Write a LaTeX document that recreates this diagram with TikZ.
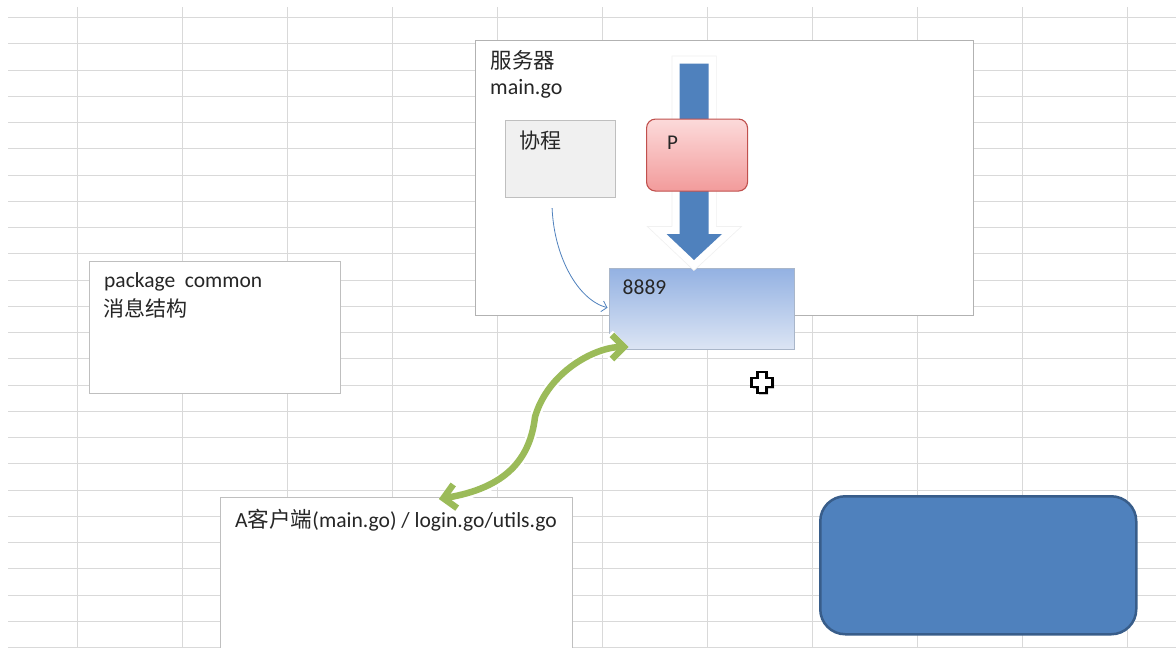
\documentclass[tikz,border=0pt]{standalone}
\usepackage{fontspec}
\setmainfont{Carlito}
\newfontfamily\cjk{Noto Sans CJK SC}
\usetikzlibrary{arrows.meta,calc}
\definecolor{gridc}{HTML}{D9D9D9}
\definecolor{boxline}{HTML}{BFBFBF}
\definecolor{txt}{HTML}{262626}
\definecolor{accblue}{HTML}{4F81BD}
\definecolor{accblueline}{HTML}{385D8A}
\definecolor{pinktop}{HTML}{FCDADA}
\definecolor{pinkbot}{HTML}{F29B9B}
\definecolor{pinkline}{HTML}{C0504D}
\definecolor{portop}{HTML}{93B1E2}
\definecolor{portbot}{HTML}{DCE5F4}
\definecolor{portline}{HTML}{A9B6C9}
\definecolor{coroutfill}{HTML}{F0F0F0}
\definecolor{grn}{HTML}{9BBB59}
\tikzset{
  gridline/.style={draw=gridc, line width=1pt},
  plainbox/.style={draw=boxline, fill=white, line width=1.2pt, inner sep=0pt, anchor=north west},
  lbl/.style={inner sep=0pt, anchor=base west, text=txt, font=\fontsize{21}{25}\selectfont},
  blockarrow/.style={line join=miter},
}
\begin{document}
\begin{tikzpicture}[x=1pt,y=-1pt]
\useasboundingbox (0,0) rectangle (1176,648);
\clip (0,0) rectangle (1176,648);
\fill[white] (0,0) rectangle (1176,648);
% grid
\foreach \i in {0,...,10} {\draw[gridline] ({77+105.05*\i},7) -- ({77+105.05*\i},648);}
\foreach \i in {0,...,24} {\draw[gridline] (8,{17.7+26.25*\i}) -- (1176,{17.7+26.25*\i});}

% server box
\node[plainbox, draw=black!30, minimum width=498, minimum height=275] (srv) at (475,39.5) {};
\node[lbl, font=\fontsize{21.5}{25}\selectfont\cjk] (srvt) at (490.5,68) {服务器};
\node[lbl, font=\fontsize{22}{25}\selectfont] (srvm) at (490,94) {main.go};

% coroutine box
\node[plainbox, fill=coroutfill, minimum width=110, minimum height=77.5] (xc) at (504.5,119.5) {};
\node[lbl, font=\fontsize{21}{25}\selectfont\cjk] (xct) at (519.5,148) {协程};

% port box
\node[draw=portline, line width=1pt, top color=portop, bottom color=portbot, inner sep=0pt,
      anchor=north west, minimum width=185.5, minimum height=81.5] (port) at (608.5,267.5) {};
\node[lbl, font=\fontsize{21.5}{25}\selectfont] (portt) at (622.5,294.5) {8889};

% thin connector from coroutine to port
\draw[draw=accblue, line width=0.8pt, -{Straight Barb[length=5pt,width=11pt]}]
  ($(xc.south)+(-8,10)$) .. controls +(2,48) and +(-30,-8) .. ($(port.west)+(-1,-1)$);

% big block arrow
\def\blk{(679.5,63.5) -- (708.5,63.5) -- (708.5,234) -- (722,234) -- (694,260) -- (666.5,234) -- (679.5,234) -- cycle}
\draw[blockarrow, draw=black!6, line width=16pt] \blk;
\draw[blockarrow, draw=white, line width=14.5pt] \blk;
\fill[accblue] \blk;

% P box
\node[draw=pinkline, line width=1.1pt, rounded corners=9pt, top color=pinktop, bottom color=pinkbot,
      inner sep=0pt, anchor=north west, minimum width=101, minimum height=72] (pbox) at (646,118.5) {};
\node[lbl, font=\fontsize{21}{24}\selectfont] (pt) at (667,149) {P};

% package common box
\node[plainbox, minimum width=251, minimum height=131.5] (common) at (89,261) {};
\node[lbl, font=\fontsize{21.5}{25}\selectfont] (commont) at (104,287.5) {package\ \ common};
\node[lbl, font=\fontsize{21}{25}\selectfont\cjk] (commonc) at (103.5,316.5) {消息结构};

% client box
\node[plainbox, minimum width=351.5, minimum height=180] (client) at (220,497) {};
\node[lbl, font=\fontsize{21.6}{25}\selectfont] (clientt) at (235,527) {A{\cjk 客户端}(main.go) / login.go/utils.go};

% green double arrow
\coordinate (gA) at ($(port.south west)+(20,-3)$);
\coordinate (gB) at ($(client.north)+(42.5,2)$);
\draw[white, line width=11pt, {Straight Barb[length=12pt,width=25pt]}-{Straight Barb[length=12pt,width=25pt]}]
  (gA) .. controls (595,347) and (548,372) .. (535,417) .. controls (530,460) and (505,488) .. (gB);
\draw[grn, line width=6.5pt, {Straight Barb[length=12pt,width=24pt]}-{Straight Barb[length=12pt,width=24pt]}]
  (gA) .. controls (595,347) and (548,372) .. (535,417) .. controls (530,460) and (505,488) .. (gB);

% blue rounded box
\node[draw=accblueline, fill=accblue, line width=2.5pt, rounded corners=25pt, inner sep=0pt,
      anchor=north west, minimum width=316, minimum height=138] (bluebox) at (819,495) {};

% cursor
\def\plus{(757.5,372) -- (766.5,372) -- (766.5,378) -- (772.5,378) -- (772.5,387) -- (766.5,387) -- (766.5,393) -- (757.5,393) -- (757.5,387) -- (751.5,387) -- (751.5,378) -- (757.5,378) -- cycle}
\fill[black!35, shift={(1.5,1.5)}] \plus;
\draw[black, fill=white, line width=2.2pt, line join=miter] \plus;
\end{tikzpicture}
\end{document}
